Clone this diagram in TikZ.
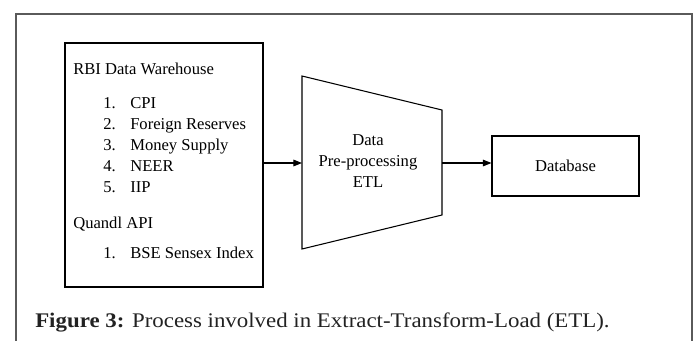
\documentclass[tikz,border=0pt]{standalone}
\usepackage{fontspec}
\setmainfont{Liberation Serif}
\newfontfamily\capfont[FakeStretch=1.1]{Liberation Serif}
\usetikzlibrary{arrows.meta}
\definecolor{framegray}{HTML}{5A5A5A}
\definecolor{captext}{HTML}{222222}
\begin{document}
\begin{tikzpicture}[x=0.75pt,y=-0.75pt,
  box/.style={draw=black, line width=0.8pt, rectangle, inner sep=0pt,
    font=\fontsize{12.45pt}{15pt}\selectfont},
  lbl/.style={font=\fontsize{12.45pt}{15pt}\selectfont, inner sep=0pt, anchor=base west},
  ctr/.style={font=\fontsize{12.45pt}{15pt}\selectfont, inner sep=0pt, anchor=base},
  conn/.style={-{Triangle[length=6.5pt,width=5pt]}, line width=0.8pt}]
\useasboundingbox (0,0) rectangle (696,340);
% outer frame
\draw[framegray, line width=1.5pt] (16,342) -- (16,14) -- (692,14) -- (692,342);
% source box
\node[box, minimum width=148.5pt, minimum height=183pt] (src) at (164,165) {};
\node[lbl] (rbi) at (73,74) {RBI Data Warehouse};
\node[lbl] (n1) at (103,108) {1.};
\node[lbl] (i1) at (130,108) {CPI};
\node[lbl] (n2) at (103,129) {2.};
\node[lbl] (i2) at (130,129) {Foreign Reserves};
\node[lbl] (n3) at (103,150) {3.};
\node[lbl] (i3) at (130,150) {Money Supply};
\node[lbl] (n4) at (103,171) {4.};
\node[lbl] (i4) at (130,171) {NEER};
\node[lbl] (n5) at (103,192) {5.};
\node[lbl] (i5) at (130,192) {IIP};
\node[lbl] (qa) at (73,228) {Quandl API};
\node[lbl] (q1) at (103,258) {1.};
\node[lbl] (qi1) at (130,258) {BSE Sensex Index};
% ETL trapezoid
\draw[line width=0.8pt] (302,76) coordinate (t1) -- (442,110) coordinate (t2)
  -- (442,215) coordinate (t3) -- (302,249) coordinate (t4) -- cycle;
\coordinate (etlin) at (302,163);
\coordinate (etlout) at (442,163);
\node[ctr] (e1) at (368,145) {Data};
\node[ctr] (e2) at (368,166) {Pre-processing};
\node[ctr] (e3) at (368,187) {ETL};
% database
\node[box, minimum width=110.25pt, minimum height=45pt] (db) at (565.5,166) {Database};
% connectors
\draw[conn] (src.east |- etlin) -- (etlin);
\draw[conn] (etlout) -- (db.west |- etlout);
% caption
\node[anchor=base west, inner sep=0pt, text=captext,
  font=\capfont\fontsize{15.6pt}{18pt}\selectfont] (cap) at (35,327)
  {\textbf{Figure 3:} Process involved in Extract-Transform-Load (ETL).};
\end{tikzpicture}
\end{document}
